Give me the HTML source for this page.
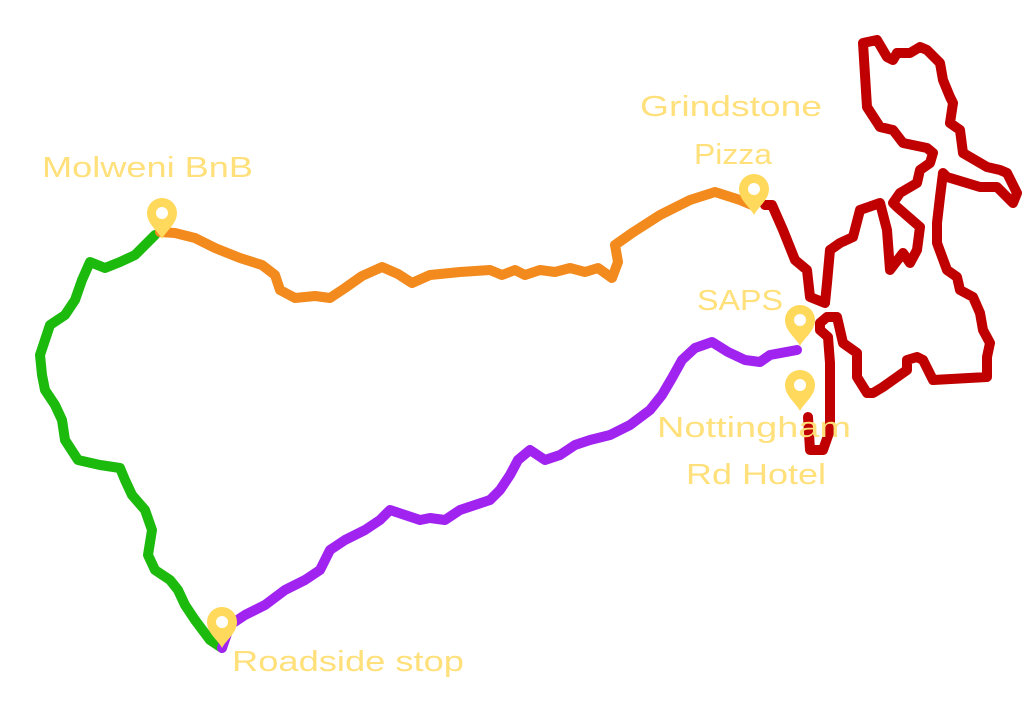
<!DOCTYPE html>
<html><head><meta charset="utf-8"><style>html,body{margin:0;padding:0;background:#fff}svg{display:block}</style></head>
<body>
<svg width="1024" height="726" viewBox="0 0 1024 726" xmlns="http://www.w3.org/2000/svg">
<defs>
<g id="pin"><path d="M0,0 C-4,-8 -15,-15 -15,-26 A15,15 0 1 1 15,-26 C15,-15 4,-8 0,0 Z" fill="#FFD95C"/><circle cx="0" cy="-26" r="6" fill="#fff"/></g>
</defs>
<g fill="none" stroke-width="10" stroke-linecap="round" stroke-linejoin="round">
<polyline stroke="#1DBA0E" points="155,235 145,245 135,255 120,262 105,268 90,262 82,280 75,300 65,315 50,325 45,340 40,355 42,375 45,390 55,405 62,420 65,440 78,460 100,465 120,468 125,480 132,495 145,510 152,530 148,555 155,570 170,580 178,590 185,605 195,620 210,640 222,648"/>
<polyline stroke="#F28A1E" points="160,232 175,233 195,238 215,248 240,258 262,265 275,275 280,290 295,298 315,296 330,298 345,288 362,276 382,267 398,274 412,283 430,275 460,272 490,270 502,275 515,270 525,275 540,270 555,272 570,268 585,272 598,268 612,278 618,262 615,245 632,233 660,215 690,200 715,192 740,200 752,205"/>
<polyline stroke="#A023F0" points="222,648 230,625 245,615 265,605 285,590 305,580 320,570 330,550 345,540 365,530 380,520 390,510 405,515 420,520 430,518 445,520 460,510 475,505 490,500 500,490 510,475 518,460 530,450 545,460 560,455 575,445 590,440 610,435 630,425 650,410 662,395 672,378 682,360 695,348 712,342 728,352 745,360 760,362 770,355 797,350"/>
<polyline stroke="#C00000" points="765,205 772,205 783,230 795,260 807,270 810,297 825,303 827,283 830,250 840,243 853,237 860,210 880,203 887,230 890,270 903,253 910,263 917,250 920,227 897,207 893,203 900,193 917,183 920,170 930,163 933,153 927,148 903,143 893,130 880,127 867,107 863,43 877,40 887,57 893,60 897,53 910,53 920,47 927,50 940,63 943,80 950,97 953,103 950,123 960,130 963,153 987,167 1000,170 1007,173 1017,193 1013,203 1007,197 997,187 980,187 947,177 943,173 940,197 937,223 937,243 947,270 957,277 960,290 973,297 980,313 983,330 990,343 987,357 987,377 933,380 923,360 917,357 907,360 907,370 883,387 873,393 867,393 857,377 857,353 843,343 837,317 827,317 820,323 820,330 828,337 830,363 830,430 823,450 810,450 808,417"/>
</g>
<use href="#pin" x="162" y="239"/>
<use href="#pin" x="754" y="215"/>
<use href="#pin" x="800" y="346"/>
<use href="#pin" x="800" y="411"/>
<use href="#pin" x="222" y="648"/>
<g fill="#FFE07A" font-family="Liberation Sans, sans-serif" font-size="29">
<text x="42" y="177" textLength="211" lengthAdjust="spacingAndGlyphs">Molweni BnB</text>
<text x="640" y="116" textLength="182" lengthAdjust="spacingAndGlyphs">Grindstone</text>
<text x="694" y="164" textLength="78" lengthAdjust="spacingAndGlyphs">Pizza</text>
<text x="697" y="310" textLength="86" lengthAdjust="spacingAndGlyphs">SAPS</text>
<text x="657" y="437" textLength="194" lengthAdjust="spacingAndGlyphs">Nottingham</text>
<text x="686" y="484" textLength="140" lengthAdjust="spacingAndGlyphs">Rd Hotel</text>
<text x="232" y="671" textLength="232" lengthAdjust="spacingAndGlyphs">Roadside stop</text>
</g>
</svg>
</body></html>
